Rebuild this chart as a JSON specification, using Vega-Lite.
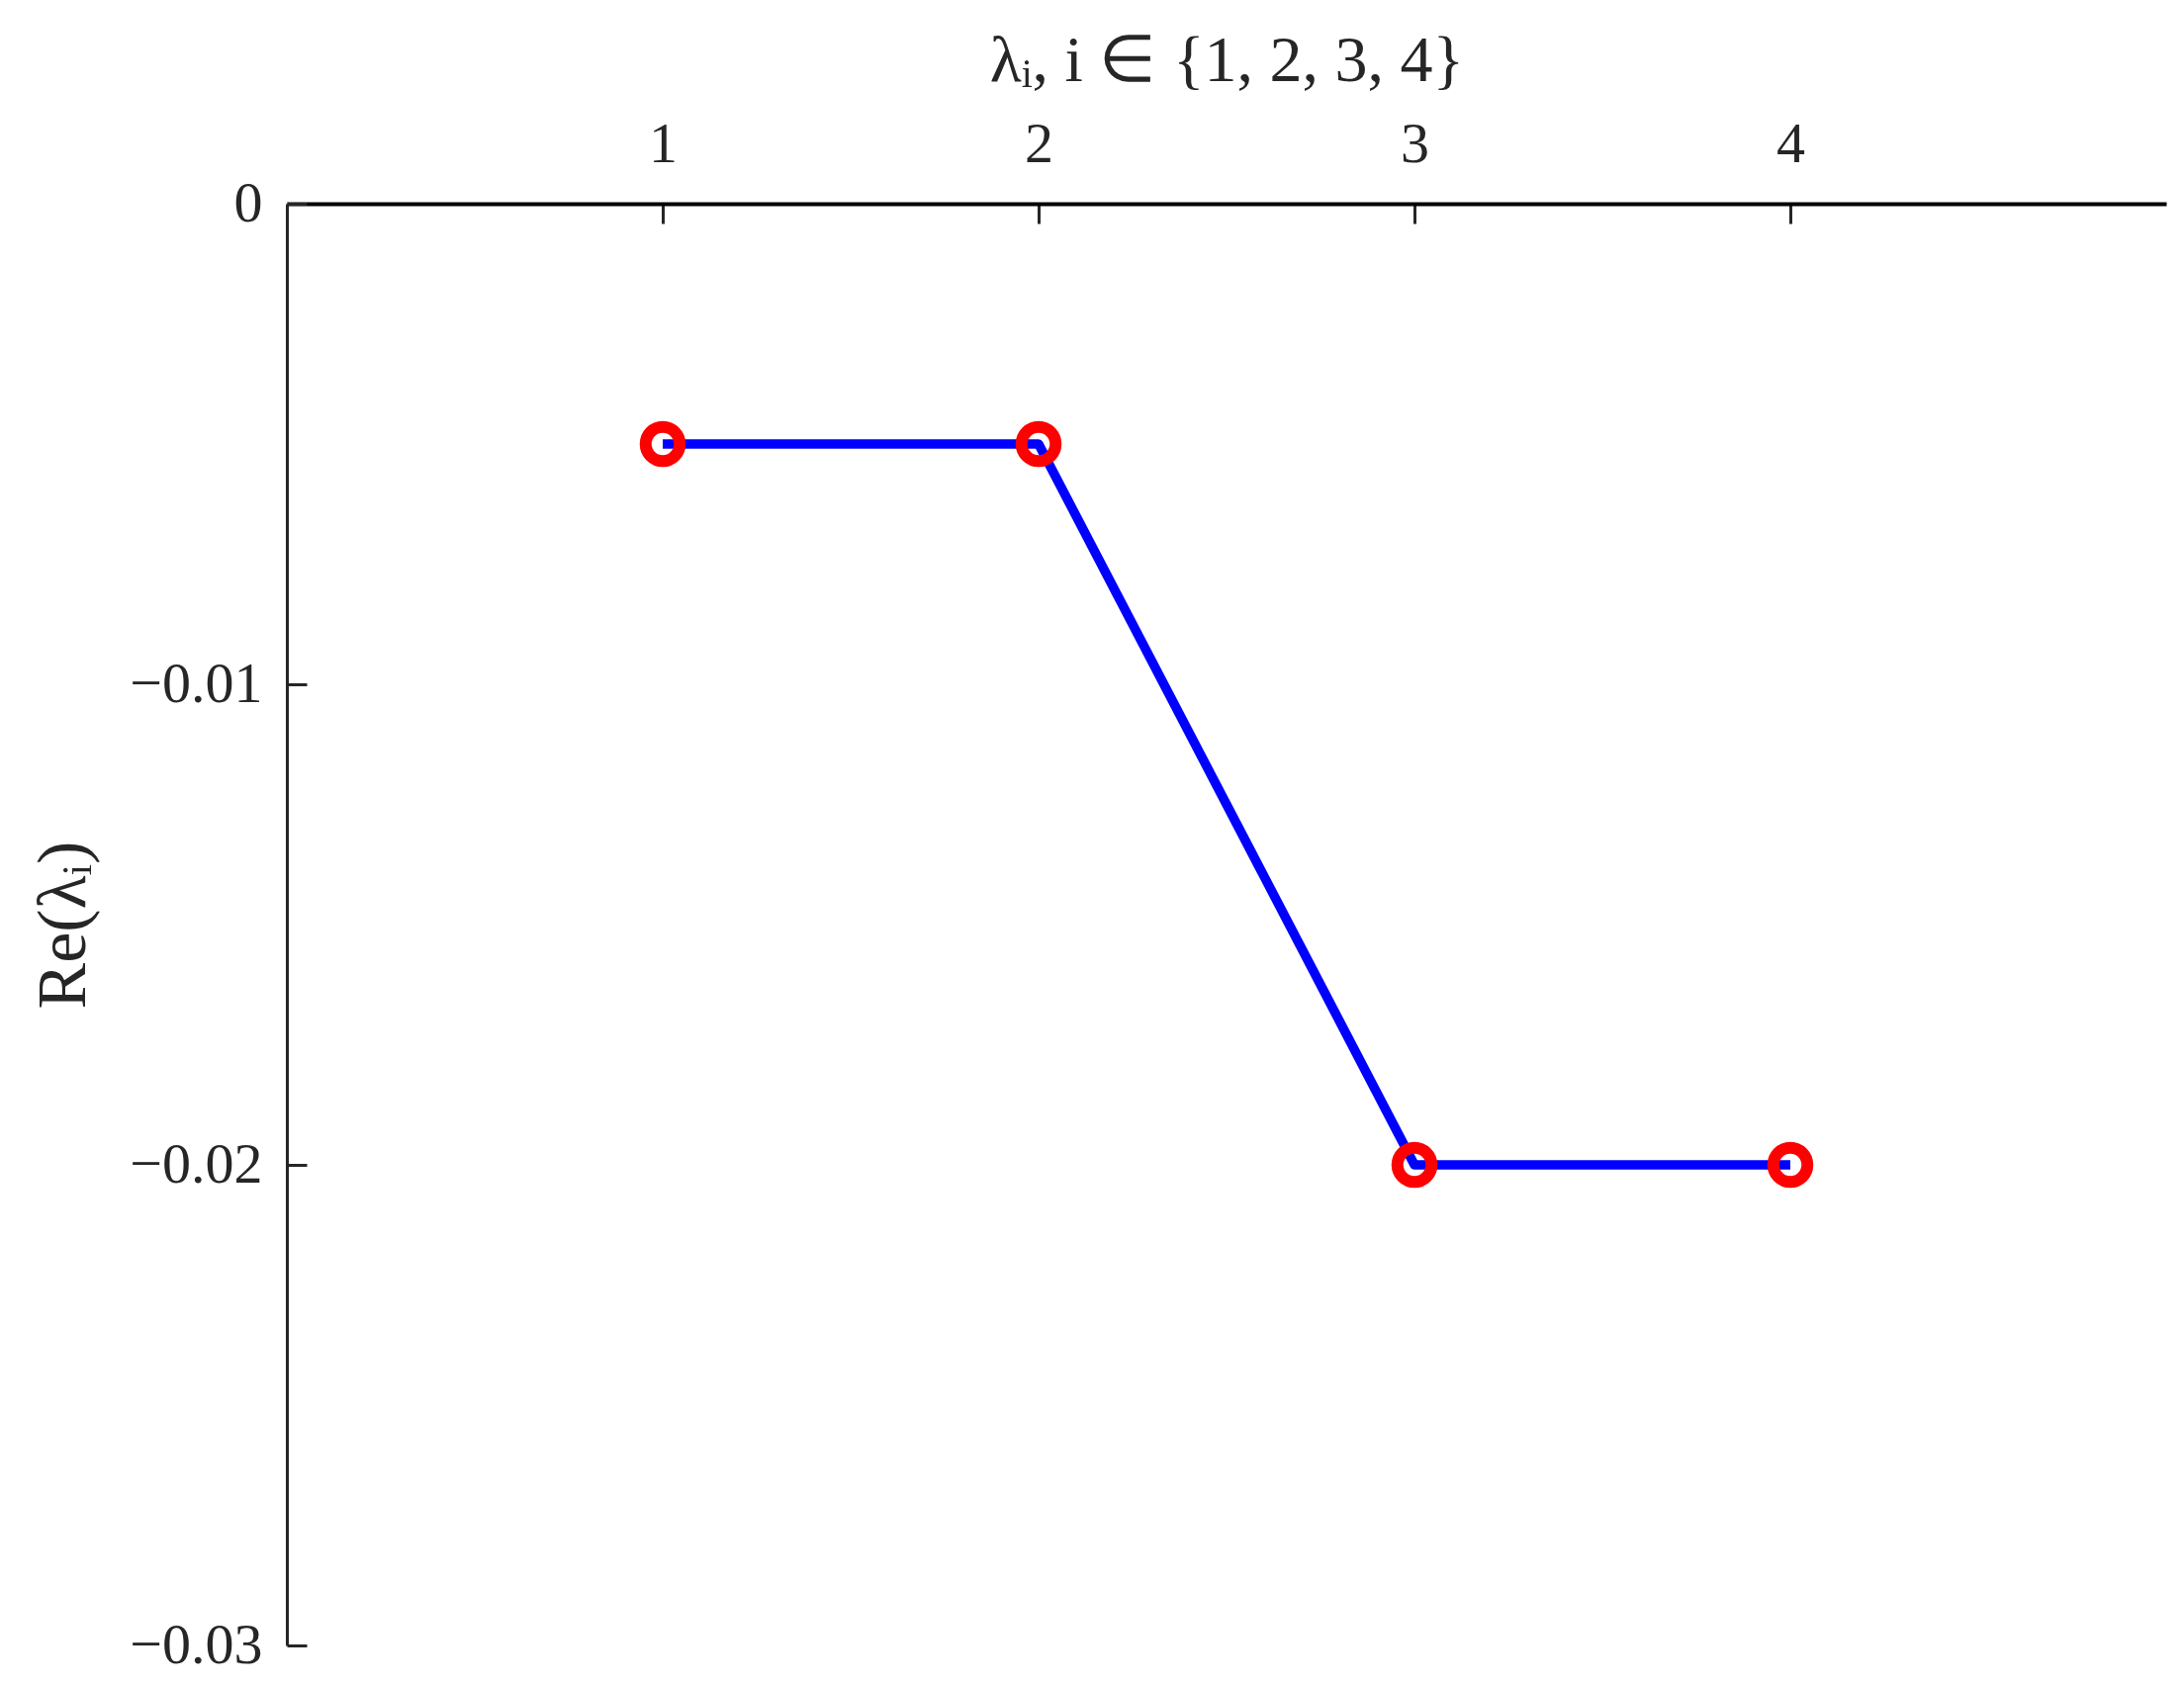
{
  "$schema": "https://vega.github.io/schema/vega-lite/v6.json",
  "autosize": {"type": "none"},
  "padding": {"left": 290, "top": 206, "right": 18, "bottom": 39},
  "width": 1900,
  "height": 1458,
  "background": "white",
  "config": {
    "view": {"stroke": null},
    "axis": {
      "grid": false,
      "domainColor": "#262626",
      "tickColor": "#262626",
      "labelColor": "#262626",
      "titleColor": "#262626",
      "labelFont": "Liberation Serif",
      "titleFont": "Liberation Serif",
      "titleFontWeight": "normal",
      "domainWidth": 3,
      "tickWidth": 3
    }
  },
  "data": {
    "values": [
      {"i": 1, "re": -0.005},
      {"i": 2, "re": -0.005},
      {"i": 3, "re": -0.02},
      {"i": 4, "re": -0.02}
    ]
  },
  "encoding": {
    "x": {
      "field": "i",
      "type": "quantitative",
      "scale": {"domain": [0, 5], "nice": false, "zero": false},
      "axis": {
        "orient": "top",
        "values": [1, 2, 3, 4],
        "format": "d",
        "title": "λᵢ, i ∈ {1, 2, 3, 4}",
        "titleFontSize": 66,
        "titlePadding": 22,
        "labelFontSize": 58,
        "labelPadding": 51,
        "tickSize": -20,
        "domainWidth": 4,
        "domainColor": "#000000",
        "labelFlush": false,
        "labelOverlap": false
      }
    },
    "y": {
      "field": "re",
      "type": "quantitative",
      "scale": {"domain": [-0.03, 0], "nice": false, "zero": false},
      "axis": {
        "orient": "left",
        "values": [0, -0.01, -0.02, -0.03],
        "format": ".2~f",
        "title": "Re(λᵢ)",
        "titleFontSize": 70,
        "titlePadding": 30,
        "labelFontSize": 58,
        "labelPadding": 45,
        "tickSize": -20,
        "labelFlush": false,
        "labelOverlap": false
      }
    }
  },
  "layer": [
    {
      "mark": {"type": "line", "color": "#0000FF", "strokeWidth": 9.5, "strokeCap": "butt", "strokeJoin": "round"}
    },
    {
      "mark": {"type": "point", "shape": "circle", "filled": false, "color": "#FF0000", "strokeWidth": 12, "size": 1190, "opacity": 1}
    }
  ]
}
